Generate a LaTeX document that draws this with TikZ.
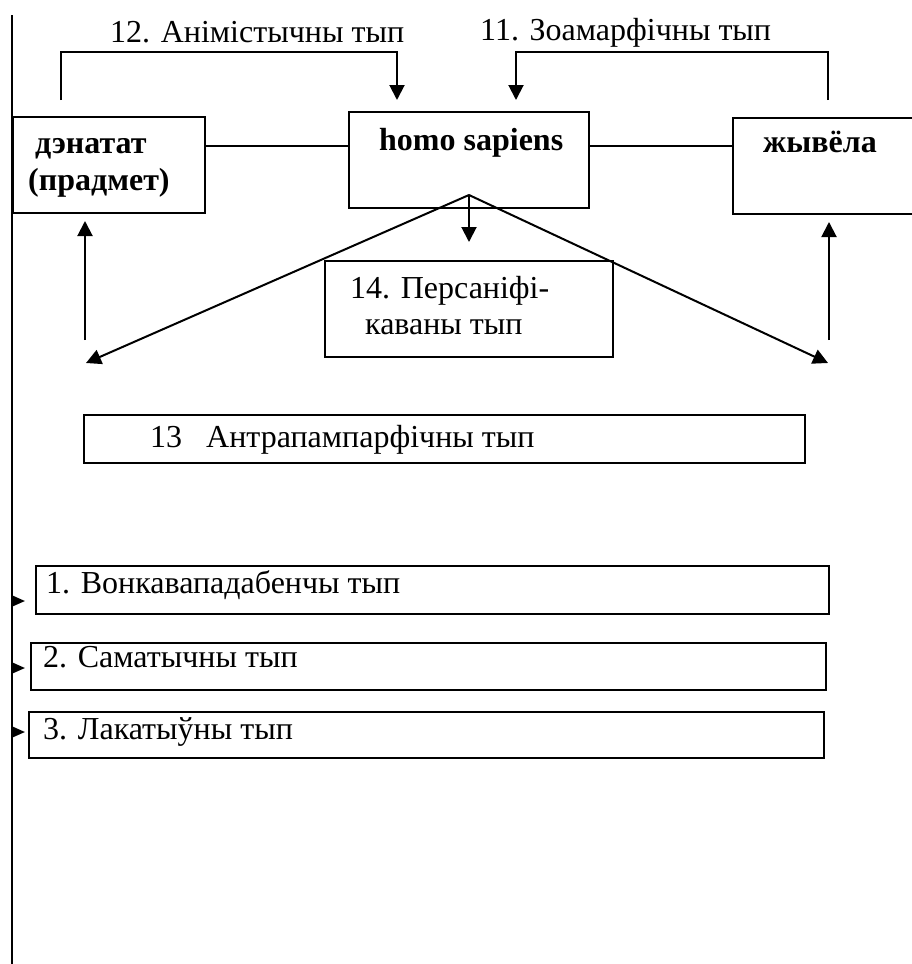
\documentclass[tikz,border=0pt]{standalone}
\usepackage{fontspec}
\setmainfont{Liberation Serif}
\usetikzlibrary{arrows.meta}

\tikzset{
  box/.style={draw, line width=2pt, inner sep=0pt},
  thickbox/.style={box, line width=2.8pt},
  txt/.style={inner sep=0pt, anchor=base west, font=\fontsize{32}{38}\selectfont},
  btxt/.style={txt, font=\fontsize{32}{38}\selectfont\bfseries},
  tip/.style={-{Triangle[length=15pt,width=15pt]}, line width=2pt},
  smalltip/.style={-{Triangle[length=12pt,width=10pt]}, line width=2pt}
}

\begin{document}
\begin{tikzpicture}[x=1pt, y=-1pt]
\useasboundingbox (0,0) rectangle (912,964);

%Declare nodes.
\node[box, minimum width=192, minimum height=96] (den) at (109,165) {};
\node[box, minimum width=240, minimum height=96] (homo) at (469,160) {};
\node[box, minimum width=210, minimum height=96] (zhyv) at (838,166) {};
\node[box, minimum width=288, minimum height=96] (pers) at (469,309) {};
\node[box, minimum width=721, minimum height=48] (antr) at (444.5,439) {};
\node[box, minimum width=793, minimum height=48] (vonk) at (432.5,590) {};
\node[thickbox, minimum width=795, minimum height=47] (samat) at (428.5,666.5) {};
\node[thickbox, minimum width=795, minimum height=46] (lakat) at (426.5,735) {};

%Declare labels.
\node[txt] (anim) at (110,42) {12. Анімістычны тып};
\node[txt] (zoam) at (480,40) {11. Зоамарфічны тып};
\node[btxt] (denA) at (35,153) {дэнатат};
\node[btxt] (denB) at (28,190) {(прадмет)};
\node[btxt] (homoT) at (379,150) {homo sapiens};
\node[btxt] (zhyvT) at (763,152) {жывёла};
\node[txt] (persA) at (350,298) {14. Персаніфі-};
\node[txt] (persB) at (365,334) {каваны тып};
\node[txt] (antrT) at (150,447) {13\ \ \ Антрапампарфічны тып};
\node[txt] (vonkT) at (46,593) {1. Вонкавападабенчы тып};
\node[txt] (samatT) at (43,667) {2. Саматычны тып};
\node[txt] (lakatT) at (43,739) {3. Лакатыўны тып};

%Declare coordinates.
\coordinate (vtop) at (12,15);
\coordinate (vbot) at (12,964);
\coordinate (hl) at (0,146);
\coordinate (b12) at (61,100);
\coordinate (e12) at (397,100);
\coordinate (b11) at (828,100);
\coordinate (e11) at (516,100);
\coordinate (apex) at (469,195);
\coordinate (down) at (469,242);
\coordinate (lend) at (86,363);
\coordinate (rend) at (828,363);
\coordinate (lup) at (85,340);
\coordinate (rup) at (829,340);
\coordinate (a1) at (25,601);
\coordinate (a2) at (25,668);
\coordinate (a3) at (25,732);

%Setup edges.
\draw[line width=2pt] (vtop) -- (vbot);
\draw[line width=2pt] (den.east |- hl) -- (homo.west |- hl);
\draw[line width=2pt] (homo.east |- hl) -- (zhyv.west |- hl);
\draw[tip] (b12) -- ++(0,-48) -| (e12);
\draw[tip] (b11) -- ++(0,-48) -| (e11);
\draw[tip] (apex) -- (down);
\draw[tip] (apex) -- (lend);
\draw[tip] (apex) -- (rend);
\draw[tip] (lup) -- ([yshift=-7pt]lup |- den.south);
\draw[tip] (rup) -- ([yshift=-7pt]rup |- zhyv.south);
\draw[smalltip] (vbot |- a1) -- (a1);
\draw[smalltip] (vbot |- a2) -- (a2);
\draw[smalltip] (vbot |- a3) -- (a3);

\end{tikzpicture}
\end{document}
